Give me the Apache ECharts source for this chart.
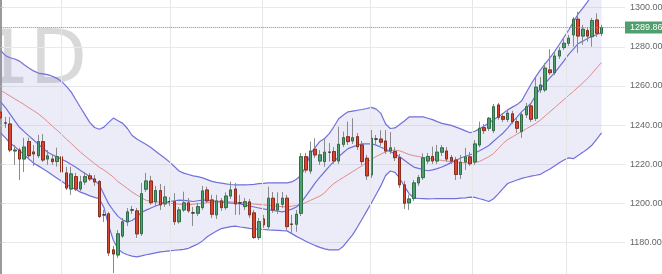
<!DOCTYPE html>
<html><head><meta charset="utf-8">
<script src="https://cdn.jsdelivr.net/npm/echarts@6/dist/echarts.min.js"></script>
<style>html,body{margin:0;padding:0;background:#fff}#c{width:662px;height:274px}</style>
</head><body><div id="c"></div>
<script>
const openP = [1246.7,1241.1,1240.6,1226.8,1227.3,1222.7,1231.6,1226.3,1224.4,1231.6,
1222.7,1222.7,1221.4,1223.8,1215.6,1207.4,1213.7,1207.4,1211.0,1214.1,
1212.5,1211.2,1194.2,1194.7,1176.3,1173.7,1183.4,1190.6,1196.7,1196.2,
1184.6,1207.3,1211.5,1200.9,1206.6,1199.8,1200.9,1200.9,1190.7,1196.7,
1200.3,1195.2,1195.0,1197.9,1206.9,1201.8,1194.2,1201.3,1197.9,1203.8,
1207.4,1200.3,1198.4,1200.8,1195.2,1182.6,1192.1,1188.2,1202.7,1196.7,
1199.6,1202.7,1189.4,1189.4,1195.0,1223.9,1216.6,1227.7,1221.7,1221.4,
1226.2,1226.5,1221.7,1230.2,1234.1,1231.9,1234.1,1229.9,1223.1,1214.6,
1232.9,1232.9,1231.9,1226.8,1226.5,1223.4,1209.5,1200.3,1202.6,1210.5,
1213.2,1221.7,1224.0,1221.7,1226.2,1226.8,1223.5,1222.2,1214.8,1221.2,
1223.8,1221.2,1229.9,1238.7,1238.4,1237.2,1250.3,1244.4,1242.9,1245.8,
1241.8,1236.7,1245.3,1249.8,1243.5,1258.0,1258.0,1268.2,1266.8,1275.3,
1279.6,1281.8,1286.1,1294.1,1285.5,1288.3,1285.2,1293.7,1286.9];
const closeP = [1243.7,1241.1,1227.3,1227.3,1222.7,1228.8,1224.4,1225.3,1231.6,1222.2,
1224.3,1221.4,1223.9,1216.1,1207.9,1215.1,1207.4,1211.0,1213.7,1212.5,
1211.0,1193.3,1194.2,1174.7,1174.2,1184.5,1190.6,1195.7,1196.7,1184.5,
1205.0,1211.5,1200.4,1206.6,1199.3,1203.3,1200.9,1190.7,1196.7,1200.3,
1196.3,1195.2,1198.4,1206.4,1201.3,1194.5,1201.3,1197.9,1203.8,1206.9,
1199.8,1200.3,1200.9,1194.2,1182.6,1190.7,1189.1,1202.7,1196.7,1199.8,
1202.7,1188.2,1189.4,1194.5,1223.9,1217.1,1226.8,1224.8,1224.8,1226.2,
1226.2,1221.7,1230.2,1233.6,1231.6,1233.6,1229.0,1221.4,1214.1,1233.3,
1232.9,1231.3,1226.8,1228.4,1223.4,1209.5,1200.1,1202.3,1210.5,1213.2,
1223.3,1224.0,1221.7,1226.2,1228.4,1222.7,1221.7,1214.8,1221.0,1223.8,
1220.3,1230.4,1238.4,1237.2,1243.5,1249.4,1244.0,1243.0,1246.1,1241.8,
1238.4,1245.3,1249.4,1243.0,1259.4,1260.5,1269.1,1266.8,1275.3,1278.0,
1281.8,1284.4,1294.1,1285.5,1289.0,1285.5,1293.4,1286.9,1289.86];
const lowP = [1242.7,1238.6,1226.3,1219.7,1212.0,1216.1,1223.3,1219.2,1223.3,1221.2,
1219.7,1219.7,1218.8,1212.0,1206.9,1204.4,1206.4,1206.4,1209.5,1211.5,
1209.0,1192.6,1190.6,1173.2,1164.5,1172.2,1182.4,1188.5,1194.7,1182.4,
1183.4,1205.9,1199.3,1198.7,1196.7,1198.2,1198.7,1189.0,1189.6,1195.7,
1195.2,1188.5,1193.6,1196.7,1200.3,1192.6,1192.1,1196.2,1196.7,1202.3,
1194.2,1194.2,1196.7,1192.6,1181.9,1181.4,1187.5,1187.0,1195.2,1194.7,
1197.7,1186.5,1185.0,1185.5,1193.6,1215.6,1215.1,1223.3,1219.7,1218.8,
1221.4,1220.2,1220.2,1228.8,1229.9,1230.4,1227.3,1219.7,1212.0,1213.0,
1229.9,1229.4,1225.3,1225.3,1221.7,1207.9,1197.2,1196.7,1201.3,1209.0,
1212.0,1220.2,1220.2,1220.2,1224.3,1221.2,1220.2,1212.0,1212.5,1217.1,
1219.2,1219.7,1228.8,1235.5,1237.0,1236.0,1242.7,1241.6,1241.6,1240.6,
1236.0,1233.5,1243.7,1241.6,1242.1,1256.4,1256.9,1265.6,1265.6,1273.8,
1278.4,1280.4,1280.1,1276.9,1281.0,1282.6,1280.1,1285.0,1285.5];
const highP = [1248.8,1244.2,1244.2,1229.9,1228.4,1233.5,1233.6,1229.9,1235.0,1235.4,
1227.3,1224.8,1228.5,1224.8,1218.7,1218.7,1215.6,1214.1,1216.1,1215.6,
1214.6,1212.0,1196.7,1195.7,1178.3,1186.5,1192.6,1197.7,1198.7,1197.7,
1210.5,1215.6,1214.1,1209.0,1210.0,1209.0,1203.3,1205.2,1198.2,1206.0,
1202.8,1198.2,1200.3,1209.0,1208.6,1204.4,1204.4,1202.8,1205.7,1211.2,
1210.5,1204.4,1202.8,1202.3,1196.7,1192.6,1194.2,1208.6,1205.9,1205.7,
1205.9,1204.4,1194.2,1196.7,1225.8,1225.8,1231.6,1233.3,1227.3,1232.9,
1230.9,1228.8,1239.2,1236.7,1241.8,1243.5,1236.0,1231.9,1224.8,1237.5,
1235.0,1237.4,1237.5,1236.5,1228.8,1225.3,1211.5,1204.4,1212.0,1214.6,
1225.6,1225.8,1229.0,1229.9,1229.9,1228.8,1224.8,1223.8,1224.8,1228.4,
1226.3,1232.4,1241.8,1240.6,1244.2,1250.8,1251.3,1246.2,1247.8,1247.3,
1243.7,1246.7,1251.3,1251.3,1264.1,1264.7,1271.6,1278.8,1277.4,1279.9,
1283.9,1286.1,1295.2,1297.9,1291.2,1290.1,1294.7,1297.1,1291.2];
const maSlow = [1257.8,1256.3,1254.9,1253.4,1252.0,1250.5,1248.9,1247.4,1245.8,1243.9,
1241.7,1239.5,1237.4,1235.2,1232.9,1230.7,1228.4,1226.2,1224.2,1222.3,
1220.4,1218.5,1217.1,1215.3,1213.5,1211.1,1209.4,1207.6,1205.8,1204.3,
1202.9,1201.6,1201.1,1200.9,1200.6,1200.4,1200.1,1199.9,1199.7,1199.4,
1199.3,1199.6,1199.9,1200.1,1200.4,1200.7,1201.0,1201.3,1201.0,1200.8,
1200.6,1200.4,1200.2,1199.9,1199.7,1199.5,1199.3,1199.1,1198.9,1198.6,
1198.4,1198.2,1198.6,1199.0,1199.5,1200.5,1201.6,1202.7,1203.8,1205.4,
1208.1,1210.2,1211.8,1213.3,1214.8,1216.3,1217.8,1219.3,1221.0,1222.6,
1224.0,1225.2,1226.4,1227.0,1227.2,1226.9,1226.0,1225.0,1224.4,1224.0,
1223.5,1223.1,1222.7,1222.3,1222.0,1221.7,1221.4,1221.2,1221.0,1220.7,
1220.9,1221.1,1221.4,1222.7,1223.9,1225.5,1228.0,1230.6,1232.6,1234.0,
1235.4,1236.8,1238.2,1239.5,1240.9,1242.6,1244.7,1246.8,1248.9,1251.0,
1253.1,1255.2,1257.2,1259.4,1261.6,1263.8,1266.5,1269.3,1272.0];
const maFast = [1251.9,1249.0,1245.6,1242.2,1238.9,1236.7,1234.5,1232.4,1230.3,1228.2,
1226.2,1224.9,1223.8,1222.5,1221.4,1219.9,1218.5,1216.9,1215.3,1213.6,
1211.9,1209.5,1204.6,1199.8,1196.4,1193.4,1191.5,1190.6,1191.3,1193.1,
1195.5,1196.6,1197.7,1198.7,1199.6,1200.4,1201.0,1201.4,1201.7,1201.6,
1201.3,1201.0,1201.4,1201.7,1201.7,1201.4,1201.0,1200.7,1200.5,1200.2,
1200.0,1199.8,1199.3,1198.7,1198.2,1197.7,1197.2,1196.8,1196.5,1196.1,
1195.7,1196.3,1197.1,1198.2,1200.4,1203.8,1207.1,1210.5,1213.5,1216.2,
1218.9,1221.5,1223.8,1226.0,1228.0,1228.9,1229.8,1230.4,1230.4,1230.4,
1229.8,1228.7,1227.7,1226.5,1225.3,1223.9,1222.1,1220.3,1218.6,1217.9,
1217.2,1216.7,1217.2,1217.8,1218.6,1219.7,1221.0,1222.1,1223.2,1224.1,
1224.9,1225.7,1226.9,1228.2,1229.6,1231.8,1233.9,1235.9,1238.5,1241.5,
1244.1,1246.9,1249.0,1251.2,1255.4,1258.8,1261.4,1264.1,1266.7,1269.8,
1272.8,1276.1,1278.8,1281.6,1282.9,1284.3,1285.3,1286.3,1287.3];
const bandUpper = [1278.0,1275.6,1274.4,1273.8,1272.7,1270.8,1269.2,1267.7,1266.6,1266.2,
1265.8,1265.0,1263.9,1262.2,1259.8,1257.0,1253.0,1249.0,1245.1,1241.3,
1238.8,1237.9,1239.0,1241.4,1243.6,1242.2,1240.9,1238.3,1234.7,1232.9,
1231.5,1230.1,1228.6,1226.7,1224.9,1223.1,1221.1,1218.9,1216.6,1215.5,
1214.8,1214.1,1213.7,1213.1,1212.2,1211.3,1210.8,1210.4,1210.0,1209.7,
1209.5,1209.5,1209.5,1209.6,1209.8,1210.1,1210.3,1210.5,1210.5,1210.5,
1210.5,1210.5,1211.0,1212.4,1214.4,1219.0,1225.5,1228.6,1231.7,1233.2,
1235.7,1239.3,1243.3,1245.2,1246.8,1247.2,1247.6,1248.0,1248.5,1249.1,
1248.2,1246.0,1240.6,1238.3,1238.6,1240.3,1242.1,1244.2,1244.2,1244.2,
1244.2,1243.5,1242.8,1241.8,1240.9,1240.4,1239.9,1239.0,1238.1,1237.1,
1236.1,1236.9,1238.1,1239.6,1241.1,1242.7,1244.3,1246.0,1247.8,1249.2,
1250.5,1252.5,1256.8,1261.0,1264.8,1268.2,1271.4,1274.4,1277.6,1281.2,
1284.9,1288.6,1292.6,1296.7,1299.8,1302.9,1306.8,1310.7,1314.7];
const bandLower = [1236.1,1233.5,1230.9,1229.0,1227.0,1224.8,1222.7,1220.6,1219.2,1217.7,
1216.2,1214.5,1212.9,1211.3,1209.7,1208.3,1207.1,1205.8,1204.9,1203.9,
1203.1,1202.4,1197.9,1188.6,1181.2,1176.7,1174.8,1173.8,1173.1,1172.7,
1173.2,1173.8,1174.3,1174.8,1175.3,1175.5,1175.8,1176.1,1176.3,1176.6,
1177.1,1178.2,1179.3,1180.9,1183.0,1184.5,1185.9,1187.2,1187.7,1188.2,
1188.4,1188.0,1187.7,1187.3,1187.0,1186.9,1186.7,1186.5,1186.4,1186.3,
1186.1,1186.0,1184.6,1183.2,1182.0,1180.7,1179.6,1178.5,1177.6,1176.8,
1176.3,1176.3,1176.3,1178.2,1181.2,1184.1,1188.0,1192.1,1196.2,1200.4,
1204.7,1209.1,1214.3,1216.6,1215.9,1212.9,1208.7,1205.0,1202.8,1202.6,
1202.5,1202.3,1202.4,1202.5,1202.5,1202.5,1202.5,1202.5,1202.7,1202.9,
1203.2,1203.1,1202.4,1201.8,1201.0,1202.4,1204.9,1207.6,1210.2,1211.1,
1212.0,1212.8,1213.4,1214.0,1214.4,1214.9,1216.3,1217.6,1219.2,1220.8,
1222.2,1223.3,1222.9,1224.5,1226.1,1227.8,1229.9,1232.9,1236.0];
const monthLines = [13, 36.1, 55.7, 78.7, 100.5, 120.5];
const yTicks = [1180, 1200, 1220, 1240, 1260, 1280, 1300];
const lastPrice = 1289.86;
const slots = 134;

const categories = Array.from({length: slots}, (_, i) => i);
const ohlc = openP.map((o, i) => [o, closeP[i], lowP[i], highP[i]]);
const bodies = openP.map((o, i) => [o, closeP[i], Math.min(o, closeP[i]), Math.max(o, closeP[i])]);
const bandDiff = bandUpper.map((u, i) => +(u - bandLower[i]).toFixed(2));

const bandColor = '#7070dc';
const chart = echarts.init(document.getElementById('c'), null, {renderer: 'canvas'});
chart.setOption({
  animation: false,
  backgroundColor: '#ffffff',
  graphic: [{type: 'text', x: -17, y: 64, z: -10, silent: true,
    style: {text: '1D', font: '74px "DejaVu Sans"', fill: '#d9d9d9', verticalAlign: 'middle'}}],
  grid: {left: 0.7, right: 37, top: -31.5, bottom: -7.8, containLabel: false, outerBoundsMode: 'none'},
  xAxis: [
    {type: 'category', data: categories, boundaryGap: false, show: false},
    {type: 'value', min: 0, max: slots - 1, show: false}
  ],
  yAxis: {
    type: 'value', position: 'right', min: 1160, max: 1320, interval: 20,
    axisLine: {show: true, lineStyle: {color: '#9a9a9a', width: 2}},
    axisTick: {show: true, length: 3, lineStyle: {color: '#cccccc'}},
    axisLabel: {color: '#666', fontSize: 9, margin: 5, fontFamily: 'Liberation Sans',
      formatter: v => yTicks.includes(v) ? v.toFixed(2) : ''},
    splitLine: {show: true, lineStyle: {color: '#e9e9e9', width: 1}}
  },
  series: [
    {type: 'line', xAxisIndex: 1, data: [], z: 0, silent: true,
      markLine: {silent: true, symbol: ['none', 'none'], label: {show: false},
        lineStyle: {color: '#e6e6e6', type: 'solid', width: 1},
        data: monthLines.map(v => ({xAxis: v}))}},
    {name: 'lower', type: 'line', data: bandLower, stack: 'bb', symbol: 'none', z: 1,
      lineStyle: {color: bandColor, width: 1.2}},
    {name: 'upper', type: 'line', data: bandDiff, stack: 'bb', symbol: 'none', z: 1,
      lineStyle: {color: bandColor, width: 1.2},
      areaStyle: {color: 'rgba(150,150,215,0.25)'}},
    {name: 'maSlow', type: 'line', data: maSlow, symbol: 'none', z: 2,
      lineStyle: {color: '#e08a8a', width: 1}},
    {name: 'maFast', type: 'line', data: maFast, symbol: 'none', z: 2,
      lineStyle: {color: bandColor, width: 1.2}},
    {name: 'wick', type: 'candlestick', data: ohlc, barWidth: 3, z: 3, clip: false,
      itemStyle: {color: 'rgba(0,0,0,0)', color0: 'rgba(0,0,0,0)', borderColor: '#8a8a8a',
        borderColor0: '#8a8a8a', borderColorDoji: '#8a8a8a', borderWidth: 1}},
    {name: 'body', type: 'candlestick', data: bodies, barWidth: 3, z: 4, clip: false,
      itemStyle: {color: '#4f9f6f', color0: '#d9452f', borderColor: '#2f6e48',
        borderColor0: '#8a2c1e', borderColorDoji: '#333333', borderWidth: 1},
      markLine: {silent: true, symbol: ['none', 'none'],
        lineStyle: {color: '#6f9a80', type: 'dotted', width: 1},
        label: {show: true, position: 'end', distance: 0, formatter: lastPrice.toFixed(2),
          backgroundColor: '#4f9f6f', color: '#fff', fontSize: 9, fontFamily: 'Liberation Sans',
          padding: [2, 6, 1, 5]},
        data: [{yAxis: lastPrice}]}}
  ]
});
</script></body></html>
